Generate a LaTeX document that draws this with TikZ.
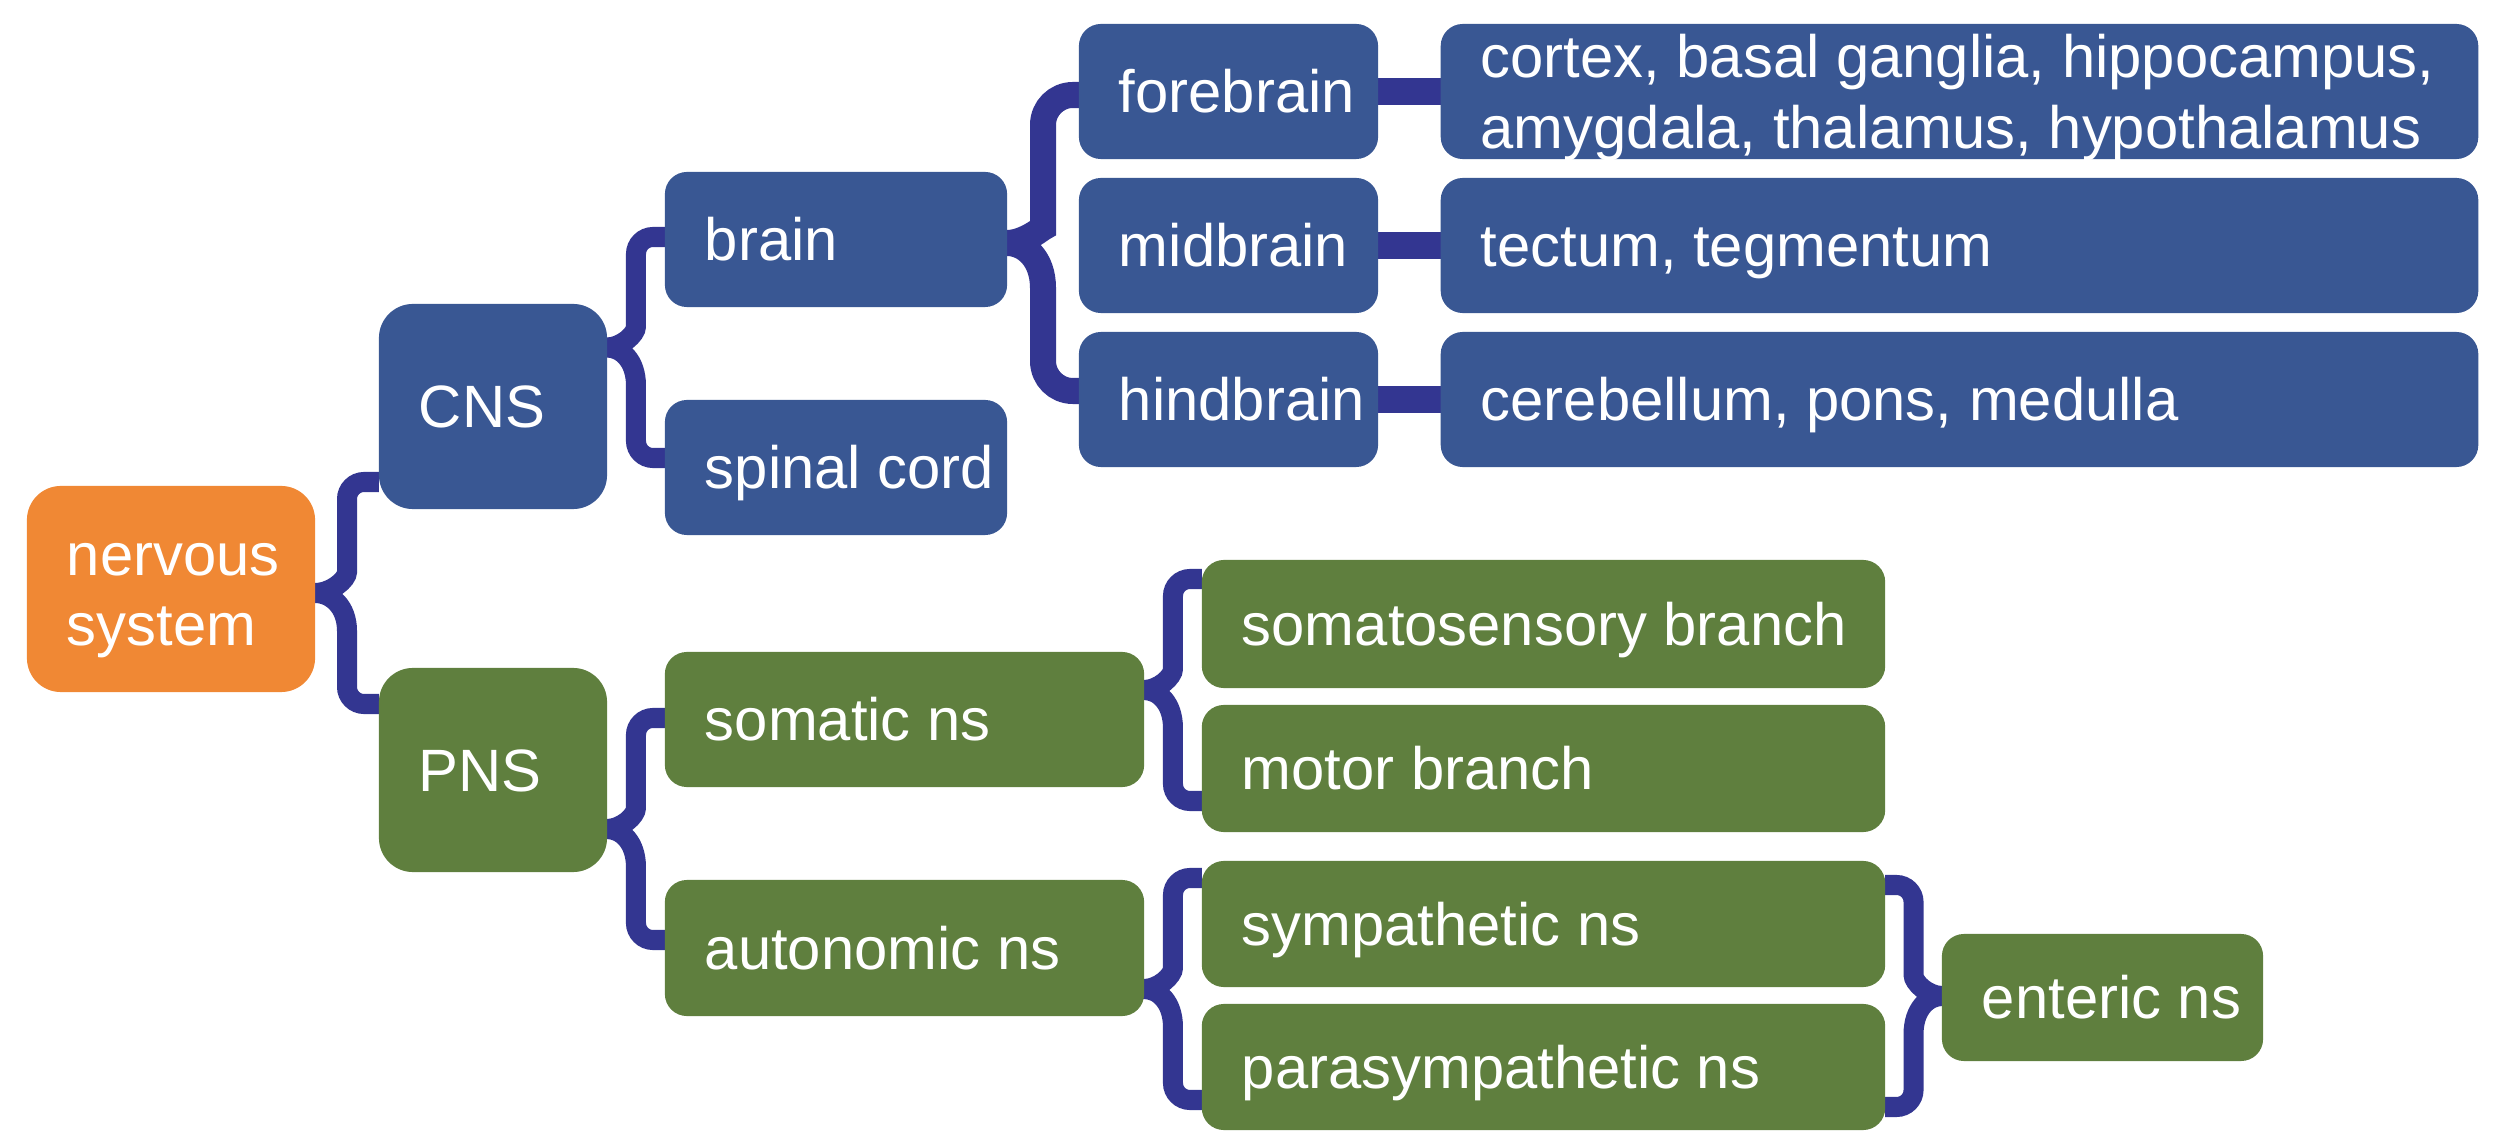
\documentclass[tikz,border=0pt]{standalone}
\usepackage{fontspec}
\setmainfont{Liberation Sans}
\usetikzlibrary{calc,backgrounds}
\definecolor{cblue}{RGB}{57,87,147}
\definecolor{cgreen}{RGB}{95,127,62}
\definecolor{corange}{RGB}{240,136,52}
\definecolor{cline}{RGB}{51,54,145}
\tikzset{
  box/.style={rounded corners=0.22cm, inner xsep=0.4cm, inner ysep=0pt, outer sep=0pt,
    text=white, font=\fontsize{17pt}{20pt}\selectfont, text height=12.17pt, text depth=0pt},
  bluebox/.style={box, fill=cblue},
  greenbox/.style={box, fill=cgreen},
  orangebox/.style={box, fill=corange},
  bigbox/.style={rounded corners=0.34cm},
  conn/.style={draw=cline, line width=0.2cm},
  connthick/.style={draw=cline, line width=0.26cm},
  bar/.style={draw=cline, line width=0.26cm}
}
% #1 tip anchor, #2 top end anchor, #3 bottom end anchor, #4 y1, #5 y2 (px), #6 style, #7 corner radius, #8 tip height (pt)
\newcommand\Br[8]{%
  \path (0,#4) coordinate (bY1) (0,#5) coordinate (bY2);
  \path ($(#1)!0.5!(#2)$) coordinate (bV)
        (#2 |- bY1) coordinate (bA)
        (#3 |- bY2) coordinate (bB);
  \path ($(bA)!0.5!(bB)$) coordinate (bM);
  \path (bV |- bM) coordinate (bVM) (#1 |- bM) coordinate (bT);
  \path ($(bT)!0.5!(bVM)$) coordinate (bH);
  \draw[#6] (bA) [rounded corners=#7] -- (bV |- bA) -- ([yshift=#8pt]bVM) [sharp corners]
     .. controls ([yshift={0.35*#8pt}]bVM) and (bH) .. (bT)
     .. controls (bH) and ([yshift={-0.35*#8pt}]bVM) .. ([yshift=-#8pt]bVM)
     [rounded corners=#7] -- (bV |- bB) -- (bB);
}
\begin{document}
\begin{tikzpicture}[x=0.01cm, y=-0.01cm]
\useasboundingbox (0,0) rectangle (2502,1146);

% level 0
\node[orangebox, bigbox, minimum width=2.88cm, minimum height=2.06cm, text depth=20pt] (ns) at (171,589)
  {\makebox[2.08cm][l]{\vtop{\hbox{nervous}\hbox{system}}}};

% level 1
\node[bluebox, bigbox, minimum width=2.28cm, minimum height=2.05cm] (CNS) at (493,406.5) {\makebox[1.48cm][l]{CNS}};
\node[greenbox, bigbox, minimum width=2.28cm, minimum height=2.04cm] (PNS) at (493,770) {\makebox[1.48cm][l]{PNS}};

% level 2
\node[bluebox, minimum width=3.42cm, minimum height=1.35cm] (brain) at (836,239.5) {\makebox[2.62cm][l]{brain}};
\node[bluebox, minimum width=3.42cm, minimum height=1.35cm] (spinal) at (836,467.5) {\makebox[2.62cm][l]{spinal cord}};
\node[greenbox, minimum width=4.79cm, minimum height=1.35cm] (somatic) at (904.5,719.5) {\makebox[3.99cm][l]{somatic ns}};
\node[greenbox, minimum width=4.79cm, minimum height=1.36cm] (autonomic) at (904.5,948) {\makebox[3.99cm][l]{autonomic ns}};

% level 3
\node[bluebox, minimum width=2.99cm, minimum height=1.35cm] (fore) at (1228.5,91.5) {\makebox[2.19cm][l]{forebrain}};
\node[bluebox, minimum width=2.99cm, minimum height=1.35cm] (mid) at (1228.5,245.5) {\makebox[2.19cm][l]{midbrain}};
\node[bluebox, minimum width=2.99cm, minimum height=1.35cm] (hind) at (1228.5,399.5) {\makebox[2.19cm][l]{hindbrain}};
\node[greenbox, minimum width=6.83cm, minimum height=1.28cm] (somato) at (1543.5,624) {\makebox[6.03cm][l]{somatosensory branch}};
\node[greenbox, minimum width=6.83cm, minimum height=1.27cm] (motor) at (1543.5,768.5) {\makebox[6.03cm][l]{motor branch}};
\node[greenbox, minimum width=6.83cm, minimum height=1.26cm] (symp) at (1543.5,924) {\makebox[6.03cm][l]{sympathetic ns}};
\node[greenbox, minimum width=6.83cm, minimum height=1.26cm] (para) at (1543.5,1067) {\makebox[6.03cm][l]{parasympathetic ns}};

% level 4
\node[bluebox, minimum width=10.37cm, minimum height=1.35cm, text depth=20pt] (cortex) at (1959.5,91.5)
  {\makebox[9.57cm][l]{\vtop{\hbox{cortex, basal ganglia, hippocampus,}\hbox{amygdala, thalamus, hypothalamus}}}};
\node[bluebox, minimum width=10.37cm, minimum height=1.35cm] (tectum) at (1959.5,245.5) {\makebox[9.57cm][l]{tectum, tegmentum}};
\node[bluebox, minimum width=10.37cm, minimum height=1.35cm] (cereb) at (1959.5,399.5) {\makebox[9.57cm][l]{cerebellum, pons, medulla}};
\node[greenbox, minimum width=3.21cm, minimum height=1.27cm] (enteric) at (2102.5,997.5) {\makebox[2.41cm][l]{enteric ns}};

% connectors
\begin{scope}[on background layer]
  \Br{ns.east}{CNS.west}{PNS.west}{482}{704}{conn}{4.84pt}{10.8}
  \Br{CNS.east}{brain.west}{spinal.west}{237}{458}{conn}{4.84pt}{10.8}
  \Br{brain.east}{fore.west}{hind.west}{95}{391}{connthick}{8.5pt}{12.8}
  \Br{PNS.east}{somatic.west}{autonomic.west}{718}{940}{conn}{4.84pt}{10.8}
  \Br{somatic.east}{somato.west}{motor.west}{579}{801}{conn}{4.84pt}{10.8}
  \Br{autonomic.east}{symp.west}{para.west}{878}{1100}{conn}{4.84pt}{10.8}
  \Br{enteric.west}{symp.east}{para.east}{885}{1107}{conn}{4.84pt}{10.8}
  \draw[bar] (fore.east) -- (cortex.west);
  \draw[bar] (mid.east) -- (tectum.west);
  \draw[bar] (hind.east) -- (cereb.west);
\end{scope}
\end{tikzpicture}
\end{document}
